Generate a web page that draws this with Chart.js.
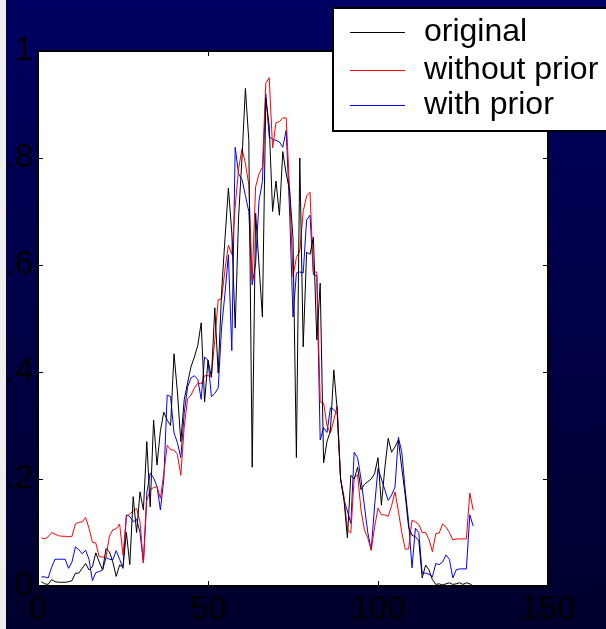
<!DOCTYPE html>
<html>
<head>
<meta charset="utf-8">
<script src="https://cdn.jsdelivr.net/npm/chart.js@4.4.1/dist/chart.umd.min.js"></script>
<style>
  html, body { margin: 0; padding: 0; background: #000040; }
  canvas { display: block; }
</style>
</head>
<body>
<canvas id="chart" width="606" height="629"></canvas>
<script>
const seriesLabels = ["original", "without prior", "with prior"];
const seriesColors = ["#000000", "#ff0000", "#0000ff"];
const xTicks = [0, 50, 100, 150];
const yTicks = [0, 0.2, 0.4, 0.6, 0.8, 1];

const original = [
  0.008, 0.004, 0.003, 0.012, 0.008, 0.007, 0.007, 0.007, 0.008, 0.010,
  0.024, 0.024, 0.033, 0.042, 0.030, 0.036, 0.062, 0.045, 0.030, 0.070,
  0.064, 0.045, 0.018, 0.039, 0.036, 0.100, 0.040, 0.167, 0.100, 0.176,
  0.142, 0.270, 0.148, 0.310, 0.226, 0.290, 0.325, 0.310, 0.300, 0.434,
  0.363, 0.270, 0.348, 0.380, 0.410, 0.428, 0.450, 0.492, 0.344, 0.422,
  0.390, 0.520, 0.398, 0.550, 0.650, 0.744, 0.660, 0.482, 0.690, 0.800,
  0.930, 0.833, 0.222, 0.697, 0.600, 0.503, 0.912, 0.860, 0.700, 0.757,
  0.693, 0.812, 0.770, 0.740, 0.650, 0.240, 0.800, 0.447, 0.624, 0.620,
  0.652, 0.460, 0.566, 0.230, 0.270, 0.290, 0.404, 0.329, 0.200, 0.160,
  0.090, 0.207, 0.200, 0.222, 0.180, 0.190, 0.195, 0.200, 0.210, 0.240,
  0.151, 0.220, 0.276, 0.250, 0.260, 0.273, 0.220, 0.170, 0.110, 0.095,
  0.092, 0.085, 0.015, 0.039, 0.030, 0.012, 0.003, 0.004, 0.002, 0.004,
  0.006, 0.003, 0.004, 0.006, 0.003, 0.006, 0.004, 0.000
];

const withoutPrior = [
  0.090, 0.088, 0.092, 0.100, 0.097, 0.094, 0.093, 0.093, 0.092, 0.093,
  0.116, 0.119, 0.120, 0.128, 0.108, 0.082, 0.080, 0.055, 0.054, 0.054,
  0.093, 0.105, 0.107, 0.116, 0.058, 0.130, 0.135, 0.140, 0.145, 0.120,
  0.043, 0.160, 0.180, 0.184, 0.186, 0.164, 0.210, 0.263, 0.255, 0.254,
  0.246, 0.207, 0.297, 0.350, 0.357, 0.370, 0.379, 0.378, 0.393, 0.393,
  0.392, 0.460, 0.535, 0.537, 0.591, 0.637, 0.620, 0.710, 0.780, 0.817,
  0.790, 0.750, 0.572, 0.746, 0.770, 0.783, 0.940, 0.950, 0.819, 0.866,
  0.868, 0.875, 0.875, 0.740, 0.578, 0.614, 0.626, 0.700, 0.729, 0.736,
  0.587, 0.587, 0.344, 0.342, 0.300, 0.286, 0.310, 0.336, 0.200, 0.167,
  0.105, 0.099, 0.202, 0.208, 0.142, 0.105, 0.090, 0.067, 0.110, 0.146,
  0.133, 0.133, 0.130, 0.150, 0.176, 0.140, 0.100, 0.069, 0.069, 0.123,
  0.120, 0.115, 0.100, 0.100, 0.087, 0.064, 0.098, 0.099, 0.116, 0.110,
  0.100, 0.086, 0.088, 0.088, 0.088, 0.088, 0.174, 0.142
];

const withPrior = [
  0.017, 0.017, 0.015, 0.035, 0.050, 0.050, 0.050, 0.050, 0.033, 0.045,
  0.073, 0.068, 0.060, 0.067, 0.050, 0.010, 0.025, 0.027, 0.030, 0.053,
  0.050, 0.049, 0.066, 0.050, 0.033, 0.133, 0.130, 0.120, 0.125, 0.100,
  0.043, 0.174, 0.211, 0.202, 0.186, 0.142, 0.200, 0.357, 0.354, 0.286,
  0.268, 0.240, 0.323, 0.372, 0.389, 0.393, 0.386, 0.349, 0.428, 0.422,
  0.354, 0.360, 0.370, 0.484, 0.547, 0.619, 0.440, 0.820, 0.770, 0.760,
  0.730, 0.700, 0.563, 0.603, 0.720, 0.756, 0.920, 0.840, 0.835, 0.833,
  0.830, 0.820, 0.852, 0.700, 0.503, 0.585, 0.587, 0.585, 0.684, 0.693,
  0.582, 0.580, 0.273, 0.296, 0.287, 0.333, 0.330, 0.322, 0.200, 0.161,
  0.140, 0.117, 0.250, 0.240, 0.200, 0.150, 0.100, 0.067, 0.150, 0.220,
  0.200, 0.180, 0.160, 0.170, 0.185, 0.278, 0.250, 0.180, 0.120, 0.034,
  0.108, 0.100, 0.024, 0.024, 0.022, 0.017, 0.042, 0.040, 0.045, 0.058,
  0.050, 0.015, 0.030, 0.032, 0.032, 0.032, 0.133, 0.112
];

const FONT = "'Liberation Sans', Arial, sans-serif";

const toPoints = (values) => values.map((v, i) => ({ x: i + 1, y: v }));

const backgroundPlugin = {
  id: "background",
  beforeDraw(chart) {
    const { ctx, width, height, chartArea } = chart;
    ctx.save();
    const grad = ctx.createLinearGradient(0, 0, 0, height);
    grad.addColorStop(0, "#000062");
    grad.addColorStop(1, "#00002c");
    ctx.fillStyle = grad;
    ctx.fillRect(0, 0, width, height);
    ctx.fillStyle = "#eeeeee";
    ctx.fillRect(0, 0, 6, height);
    ctx.fillStyle = "#ffffff";
    ctx.fillRect(chartArea.left, chartArea.top,
      chartArea.right - chartArea.left, chartArea.bottom - chartArea.top);
    ctx.restore();
  },
};

const framePlugin = {
  id: "frame",
  afterDatasetsDraw(chart) {
    const { ctx, chartArea, scales } = chart;
    const { left, right, top, bottom } = chartArea;
    ctx.save();
    ctx.strokeStyle = "#000000";
    ctx.lineWidth = 1;
    ctx.beginPath();
    xTicks.forEach((t) => {
      const x = Math.round(scales.x.getPixelForValue(t)) + 0.5;
      ctx.moveTo(x, bottom);
      ctx.lineTo(x, bottom - 5);
      ctx.moveTo(x, top);
      ctx.lineTo(x, top + 5);
    });
    yTicks.forEach((t) => {
      const y = Math.round(scales.y.getPixelForValue(t)) + 0.5;
      ctx.moveTo(left, y);
      ctx.lineTo(left + 5, y);
      ctx.moveTo(right, y);
      ctx.lineTo(right - 5, y);
    });
    ctx.stroke();
    ctx.lineWidth = 2;
    ctx.strokeRect(left, top, right - left, bottom - top);

    // legend box
    const bx = 333, by = 8, bw = 300, bh = 123;
    ctx.fillStyle = "#ffffff";
    ctx.fillRect(bx, by, bw, bh);
    ctx.lineWidth = 2;
    ctx.strokeStyle = "#000000";
    ctx.strokeRect(bx, by, bw, bh);
    ctx.font = "32px " + FONT;
    ctx.textBaseline = "middle";
    ctx.textAlign = "left";
    const rows = [32, 70, 105];
    seriesLabels.forEach((label, i) => {
      ctx.strokeStyle = seriesColors[i];
      ctx.lineWidth = 1.2;
      ctx.beginPath();
      ctx.moveTo(350, rows[i] + 0.5);
      ctx.lineTo(405, rows[i] + 0.5);
      ctx.stroke();
      ctx.fillStyle = "#000000";
      ctx.fillText(label, 424, rows[i]);
    });
    ctx.restore();
  },
};

const formatY = (v) => {
  if (v === 0) return "0";
  if (v === 1) return "1";
  return v.toFixed(1).replace("0.", ".");
};

new Chart(document.getElementById("chart").getContext("2d"), {
  type: "line",
  data: {
    datasets: [original, withoutPrior, withPrior].map((vals, i) => ({
      label: seriesLabels[i],
      data: toPoints(vals),
      borderColor: seriesColors[i],
      borderWidth: 1,
      pointRadius: 0,
      tension: 0,
      fill: false,
    })),
  },
  options: {
    responsive: false,
    animation: false,
    devicePixelRatio: 1,
    layout: { padding: { top: 51, right: 58, left: 0, bottom: 0 } },
    plugins: { legend: { display: false }, tooltip: { enabled: false } },
    scales: {
      x: {
        type: "linear",
        min: 0,
        max: 150,
        afterFit: (scale) => { scale.height = 43; },
        afterBuildTicks: (scale) => { scale.ticks = xTicks.map((v) => ({ value: v })); },
        grid: { display: false, drawTicks: false },
        border: { display: false },
        ticks: { color: "#000000", padding: 4, maxRotation: 0,
          font: { size: 33, family: FONT } },
      },
      y: {
        type: "linear",
        min: 0,
        max: 1,
        afterFit: (scale) => { scale.width = 38; },
        afterBuildTicks: (scale) => { scale.ticks = yTicks.map((v) => ({ value: v })); },
        grid: { display: false, drawTicks: false },
        border: { display: false },
        ticks: { color: "#000000", padding: 5, callback: formatY,
          font: { size: 33, family: FONT } },
      },
    },
  },
  plugins: [backgroundPlugin, framePlugin],
});
</script>
</body>
</html>
